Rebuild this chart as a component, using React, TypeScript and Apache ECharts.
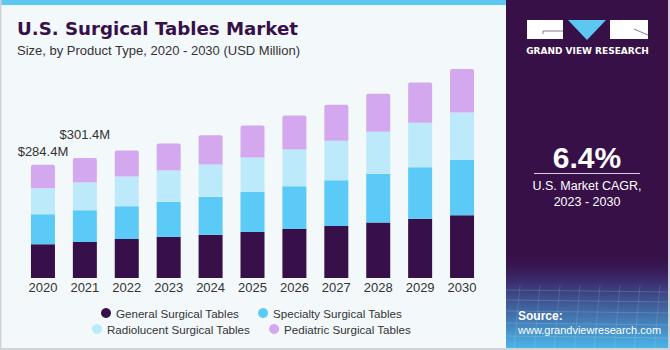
import React, { useEffect, useRef } from "react";
import * as echarts from "echarts";

const years = ["2020", "2021", "2022", "2023", "2024", "2025", "2026", "2027", "2028", "2029", "2030"];
const general = [84.8, 90.5, 98.1, 103.1, 108.9, 115.7, 123.2, 130.8, 139.1, 149.1, 157.7];
const specialty = [75.5, 79.7, 82.2, 88.0, 94.8, 100.6, 107.4, 114.9, 122.5, 129.3, 139.1];
const radiolucent = [65.4, 69.4, 74.4, 78.7, 81.2, 86.3, 92.0, 98.8, 105.6, 111.4, 119.0];
const pediatric = [58.7, 61.8, 65.4, 67.9, 73.9, 80.5, 85.5, 90.5, 95.6, 101.4, 109.2];
const seriesNames = ["General Surgical Tables", "Specialty Surgical Tables", "Radiolucent Surgical Tables", "Pediatric Surgical Tables"];
const colors = ["#37104a", "#5ccaf7", "#bdeafa", "#d4a8ee"];
const labelledYears = [0, 1];
const labelDistances = [7, 17];

const FONT = "'Liberation Sans', Arial, sans-serif";

export default function App() {
  const ref = useRef<HTMLDivElement>(null);
  useEffect(() => {
    if (!ref.current) return;
    const chart = echarts.init(ref.current, null, { renderer: "svg" });
    const totals = years.map((_, i) => general[i] + specialty[i] + radiolucent[i] + pediatric[i]);
    const all = [general, specialty, radiolucent, pediatric];
    const series: any[] = all.map((arr, s) => ({
      name: seriesNames[s],
      type: "bar",
      stack: "total",
      barWidth: 24,
      itemStyle: {
        color: colors[s],
        borderRadius: s === 3 ? [2, 2, 0, 0] : 0,
      },
      data: arr.map((v, i) => {
        if (s === 3 && labelledYears.indexOf(i) >= 0) {
          const k = labelledYears.indexOf(i);
          return {
            value: v,
            label: {
              show: true,
              position: "top",
              distance: labelDistances[k],
              formatter: "$" + totals[i].toFixed(1) + "M",
              color: "#333",
              fontSize: 13,
              fontFamily: FONT,
            },
          };
        }
        return v;
      }),
    }));
    const legendCommon = {
      icon: "circle",
      itemWidth: 10,
      itemHeight: 10,
      itemGap: 19,
      padding: 0,
      orient: "horizontal",
      textStyle: { color: "#333", fontSize: 11.6, fontFamily: FONT },
      selectedMode: false,
    };
    chart.setOption({
      animation: false,
      backgroundColor: "#f3f8fb",
      grid: { left: 22, right: 187, top: 59, bottom: 72 },
      xAxis: {
        type: "category",
        data: years,
        axisLine: { show: false },
        axisTick: { show: false },
        axisLabel: { color: "#333", fontSize: 13, fontFamily: FONT, margin: 3 },
      },
      yAxis: { type: "value", min: 0, max: 550, show: false, splitLine: { show: false } },
      legend: [
        { ...legendCommon, data: [seriesNames[0], seriesNames[1]], left: 101, top: 307 },
        { ...legendCommon, data: [seriesNames[2], seriesNames[3]], left: 92, top: 323 },
      ],
      graphic: [
        { type: "rect", shape: { x: 0, y: 0, width: 506, height: 5 }, style: { fill: "#5cc8f2" } },
        { type: "rect", shape: { x: 506, y: 0, width: 164, height: 350 }, style: { fill: "#371048" } },
        {
          type: "rect",
          shape: { x: 506, y: 250, width: 164, height: 100 },
          style: {
            fill: new echarts.graphic.LinearGradient(0, 0, 0, 1, [
              { offset: 0, color: "rgba(55,16,72,0)" },
              { offset: 0.35, color: "#3a3576" },
              { offset: 1, color: "#4cb8ea" },
            ]),
          },
        },
        ...[290, 300, 311, 323, 336].map((y) => ({
          type: "line",
          shape: { x1: 506, y1: y, x2: 670, y2: y + 2 },
          style: { stroke: "rgba(255,255,255,0.15)", lineWidth: 1 },
        })),
        ...[520, 540, 560, 580, 600, 620, 640, 660].map((x) => ({
          type: "line",
          shape: { x1: x, y1: 285, x2: x - 6, y2: 350 },
          style: { stroke: "rgba(255,255,255,0.12)", lineWidth: 1 },
        })),
        { type: "rect", shape: { x: 527, y: 20, width: 36, height: 19 }, style: { fill: "#ffffff" } },
        { type: "polyline", shape: { points: [[543, 34], [543, 31], [563, 31]] }, style: { stroke: "#6a5a78", lineWidth: 0.8, fill: "none" } },
        { type: "polygon", shape: { points: [[568, 20], [606, 20], [587, 40]] }, style: { fill: "#5cc8f2" } },
        { type: "rect", shape: { x: 610, y: 20, width: 38, height: 19 }, style: { fill: "#ffffff" } },
        { type: "line", shape: { x1: 634, y1: 29, x2: 648, y2: 35 }, style: { stroke: "#6a5a78", lineWidth: 0.8 } },
        {
          type: "text",
          x: 587.5, y: 51,
          style: { text: "GRAND VIEW RESEARCH", fill: "#ffffff", fontSize: 9, fontWeight: "bold", fontFamily: "'DejaVu Sans', sans-serif", align: "center", verticalAlign: "middle" },
        },
        {
          type: "text",
          x: 587, y: 157,
          style: { text: "6.4%", fill: "#ffffff", fontSize: 30, fontWeight: "bold", fontFamily: FONT, align: "center", verticalAlign: "middle" },
        },
        { type: "line", shape: { x1: 534, y1: 173.5, x2: 640, y2: 173.5 }, style: { stroke: "#d8d0e0", lineWidth: 1 } },
        {
          type: "text",
          x: 587, y: 186,
          style: { text: "U.S. Market CAGR,", fill: "#ffffff", fontSize: 12.5, fontFamily: FONT, align: "center", verticalAlign: "middle" },
        },
        {
          type: "text",
          x: 587, y: 202,
          style: { text: "2023 - 2030", fill: "#ffffff", fontSize: 12.5, fontFamily: FONT, align: "center", verticalAlign: "middle" },
        },
        {
          type: "text",
          x: 518, y: 316,
          style: { text: "Source:", fill: "#ffffff", fontSize: 12, fontWeight: "bold", fontFamily: FONT, verticalAlign: "middle" },
        },
        {
          type: "text",
          x: 518, y: 330,
          style: { text: "www.grandviewresearch.com", fill: "#ffffff", fontSize: 11, fontFamily: FONT, verticalAlign: "middle" },
        },
        {
          type: "text",
          x: 17, y: 28,
          style: { text: "U.S. Surgical Tables Market", fill: "#37104a", fontSize: 18.2, fontWeight: "bold", fontFamily: "'DejaVu Sans', sans-serif", verticalAlign: "middle" },
        },
        {
          type: "text",
          x: 17, y: 50,
          style: { text: "Size, by Product Type, 2020 - 2030 (USD Million)", fill: "#333333", fontSize: 13, fontFamily: FONT, verticalAlign: "middle" },
        },
        { type: "rect", shape: { x: 0, y: 0, width: 1.5, height: 350 }, style: { fill: "#cfd3d6" } },
        { type: "rect", shape: { x: 0, y: 348, width: 670, height: 2 }, style: { fill: "#cfd3d6" } },
        { type: "rect", shape: { x: 668, y: 0, width: 2, height: 350 }, style: { fill: "#cfd3d6" } },
      ],
      series,
    });
    return () => chart.dispose();
  }, []);
  return <div ref={ref} style={{ position: "absolute", left: 0, top: 0, width: 670, height: 350 }} />;
}
